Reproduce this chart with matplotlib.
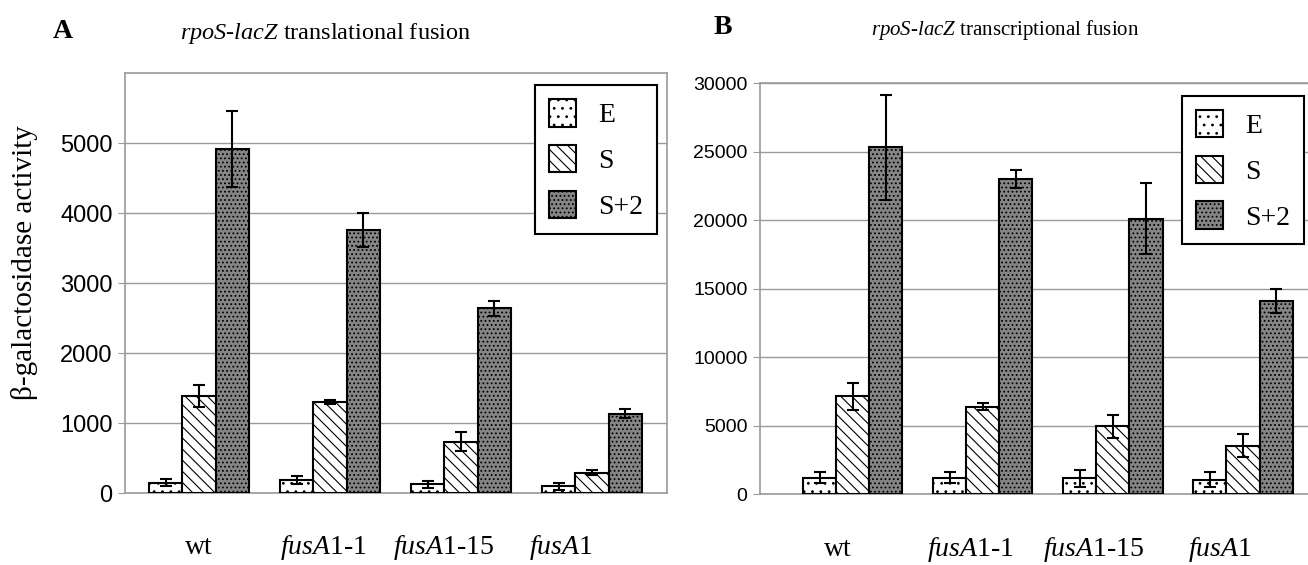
import matplotlib
matplotlib.use('Agg')
import matplotlib.pyplot as plt
import numpy as np

plt.rcParams['hatch.linewidth'] = 0.8
plt.rcParams['mathtext.fontset'] = 'custom'
plt.rcParams['mathtext.it'] = 'Liberation Serif:italic'
plt.rcParams['mathtext.rm'] = 'Liberation Serif'

strains = ['wt', 'fusA1-1', 'fusA1-15', 'fusA1']
strain_labels = [r'wt', r'$\mathit{fusA}$1-1', r'$\mathit{fusA}$1-15', r'$\mathit{fusA}$1']
series = ['E', 'S', 'S+2']

# panel A: translational fusion
trl_E = [150, 185, 125, 100]
trl_E_err = [55, 60, 50, 50]
trl_S = [1390, 1300, 735, 290]
trl_S_err = [160, 30, 140, 35]
trl_S2 = [4910, 3760, 2640, 1135]
trl_S2_err = [540, 245, 110, 70]

# panel B: transcriptional fusion
trc_E = [1200, 1200, 1170, 1050]
trc_E_err = [400, 400, 600, 550]
trc_S = [7150, 6400, 4950, 3550]
trc_S_err = [1000, 250, 850, 850]
trc_S2 = [25300, 23000, 20100, 14100]
trc_S2_err = [3800, 650, 2600, 850]

styles = {
    'E': dict(facecolor='white', hatch='..'),
    'S': dict(facecolor='white', hatch='\\\\\\'),
    'S+2': dict(facecolor='#858585', hatch='....'),
}

serif = 'Liberation Serif'
sans = 'Liberation Sans'
grid_c = '#9a9a9a'

fig = plt.figure(figsize=(13.08, 5.65), dpi=100)
axA = fig.add_axes([0.0956, 0.1274, 0.4144, 0.7434])
axB = fig.add_axes([0.581, 0.1251, 0.419, 0.7279])


def draw(ax, vals, errs, ymax, step, xlim, label_x, label_y, legend_box, tick_size):
    x = np.arange(len(strains))
    w = 0.254
    for i, name in enumerate(series):
        ax.bar(x + (i - 1) * w, vals[i], w, yerr=errs[i],
               edgecolor='black', linewidth=1.5, label=name,
               error_kw=dict(ecolor='black', elinewidth=1.5, capsize=4.5, capthick=1.5),
               zorder=3, **styles[name])
    ax.set_xlim(*xlim)
    ax.set_ylim(0, ymax)
    ax.set_yticks(np.arange(0, ymax + 1, step))
    ax.yaxis.grid(True, color=grid_c, linewidth=1, zorder=0)
    ax.set_axisbelow(True)
    ax.set_xticks([])
    for s in ax.spines.values():
        s.set_color(grid_c)
        s.set_linewidth(1.2)
    ax.tick_params(axis='y', length=5, color=grid_c, labelsize=tick_size, pad=4)
    for t in ax.get_yticklabels():
        t.set_fontfamily(sans)
    for lx, lab in zip(label_x, strain_labels):
        ax.text(lx, label_y, lab, transform=ax.get_xaxis_transform(),
                ha='center', va='center', fontsize=20, fontfamily=serif)
    leg = ax.legend(loc='upper left', bbox_to_anchor=legend_box, prop=dict(family=serif, size=20),
                    frameon=True, fancybox=False, edgecolor='black', framealpha=1,
                    handlelength=0.97, handleheight=1.15, labelspacing=0.6,
                    handletextpad=0.8, borderpad=0.5, borderaxespad=0)
    leg.get_frame().set_linewidth(1.5)
    leg.set_zorder(5)


draw(axA, [trl_E, trl_S, trl_S2], [trl_E_err, trl_S_err, trl_S2_err],
     6000, 1000, (-0.565, 3.573), [0.0, 0.95, 1.87, 2.76], -0.13, (0.756, 0.971), 17)
draw(axB, [trc_E, trc_S, trc_S2], [trc_E_err, trc_S_err, trc_S2_err],
     30000, 5000, (-0.715, 3.5), [-0.115, 0.9, 1.85, 2.82], -0.135, (0.770, 0.969), 14)
axA.set_yticks(np.arange(0, 6000, 1000))
axB.spines['right'].set_visible(False)

axA.set_ylabel('β-galactosidase activity', fontfamily=serif, fontsize=21)
axA.yaxis.set_label_coords(-0.16, 0.548)

fig.text(63 / 1308, 1 - 32 / 565, 'A', fontfamily=serif, fontsize=20, fontweight='bold', ha='center', va='center')
fig.text(326 / 1308, 1 - 33 / 565, r'$\mathit{rpoS}$-$\mathit{lacZ}$ translational fusion',
         fontfamily=serif, fontsize=17.5, ha='center', va='center')
fig.text(723 / 1308, 1 - 27 / 565, 'B', fontfamily=serif, fontsize=20, fontweight='bold', ha='center', va='center')
fig.text(1005 / 1308, 1 - 30 / 565, r'$\mathit{rpoS}$-$\mathit{lacZ}$ transcriptional fusion',
         fontfamily=serif, fontsize=15, ha='center', va='center')

fig.savefig('out.png', dpi=100)
